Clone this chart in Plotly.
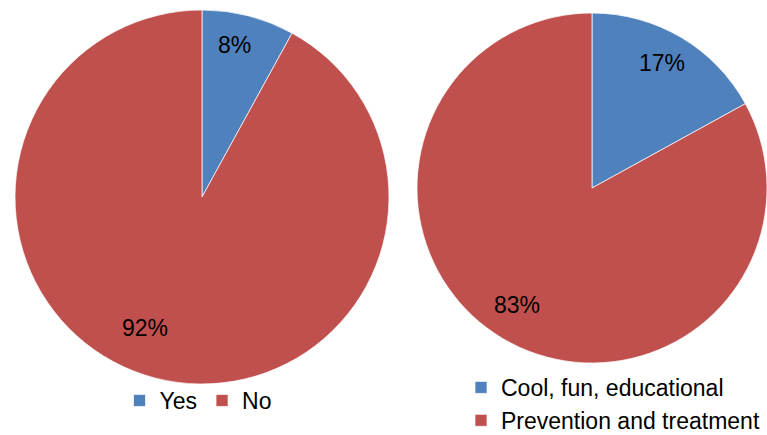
import math
import plotly.graph_objects as go

# Survey answers, shown as two pies
q1_labels = ["Yes", "No"]
q1_values = [8, 92]
q2_labels = ["Cool, fun, educational", "Prevention and treatment"]
q2_values = [17, 83]

slice_colors = ["#4F81BD", "#C0504D"]

W, H = 767, 435
FONT = "Liberation Sans, Arial, sans-serif"

# pie geometry in pixels: centre x, centre y, radius
left_geo = (202, 197, 187)
right_geo = (592, 188, 175)

# percentage label placement per slice: (radius fraction, angle nudge in degrees)
left_label_place = [(0.83, -2.2), (0.765, 9.1)]
right_label_place = [(0.82, -1.5), (0.795, 2.1)]


def domain(geo):
    cx, cy, r = geo
    return dict(x=[(cx - r) / W, (cx + r) / W],
                y=[1 - (cy + r) / H, 1 - (cy - r) / H])


def pct_labels(values, geo, place):
    """Percentage annotations placed near each slice's mid angle."""
    cx, cy, r = geo
    total = sum(values)
    anns = []
    start = 0.0
    for v, (frac, nudge) in zip(values, place):
        mid = (start + v / 2) / total * 2 * math.pi + math.radians(nudge)
        start += v
        px = cx + frac * r * math.sin(mid)
        py = cy - frac * r * math.cos(mid)
        anns.append(dict(x=px / W, y=1 - py / H, xref="paper", yref="paper",
                         xanchor="center", yanchor="middle",
                         text=f"{round(v / total * 100)}%", showarrow=False,
                         font=dict(family=FONT, size=23, color="#000000")))
    return anns


fig = go.Figure()
fig.add_trace(go.Pie(labels=q1_labels, values=q1_values, sort=False,
                     direction="clockwise", rotation=0, textinfo="none",
                     marker=dict(colors=slice_colors,
                                 line=dict(color="rgba(255,255,255,0.7)", width=1)),
                     domain=domain(left_geo), legend="legend",
                     hoverinfo="label+percent"))
fig.add_trace(go.Pie(labels=q2_labels, values=q2_values, sort=False,
                     direction="clockwise", rotation=0, textinfo="none",
                     marker=dict(colors=slice_colors,
                                 line=dict(color="rgba(255,255,255,0.7)", width=1)),
                     domain=domain(right_geo), legend="legend2",
                     hoverinfo="label+percent"))

fig.update_layout(
    width=W, height=H,
    margin=dict(l=0, r=0, t=0, b=0, autoexpand=False),
    paper_bgcolor="white",
    font=dict(family=FONT, size=22, color="#000000"),
    annotations=(pct_labels(q1_values, left_geo, left_label_place)
                 + pct_labels(q2_values, right_geo, right_label_place)),
    legend=dict(orientation="h", x=198 / W, xanchor="center",
                y=1 - 379 / H, yanchor="top",
                font=dict(family=FONT, size=23), itemclick=False,
                bgcolor="rgba(0,0,0,0)"),
    legend2=dict(orientation="v", x=461 / W, xanchor="left",
                 y=-0.016, yanchor="bottom",
                 font=dict(family=FONT, size=23), itemclick=False,
                 bgcolor="rgba(0,0,0,0)", tracegroupgap=0),
)

fig.write_html("out.html")
